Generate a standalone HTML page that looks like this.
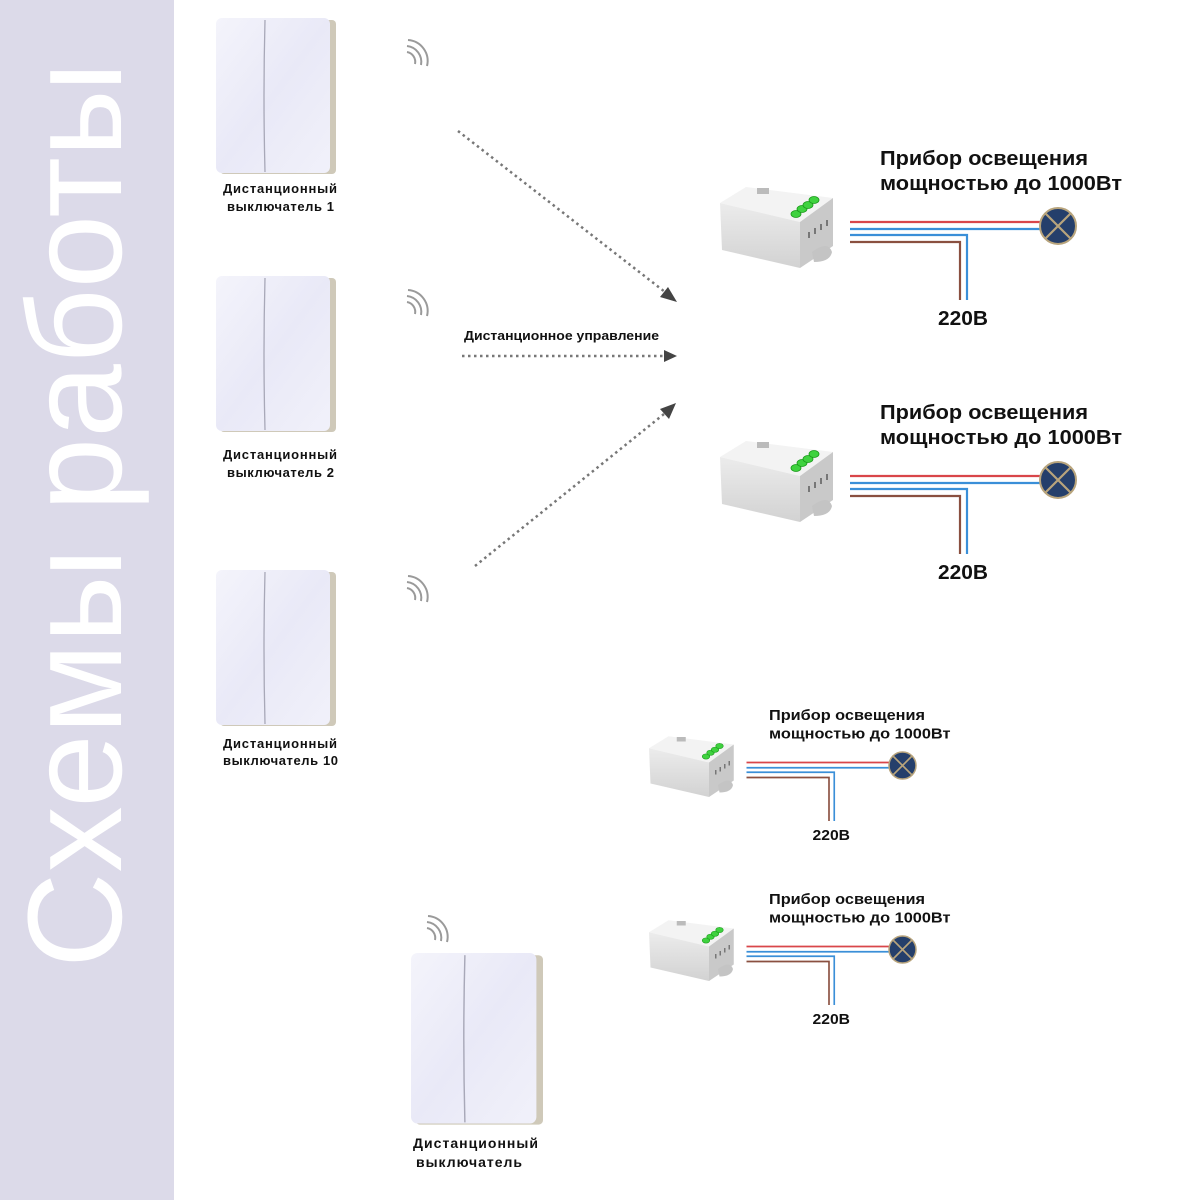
<!DOCTYPE html>
<html><head><meta charset="utf-8"><style>
html,body{margin:0;padding:0;background:#fff}
svg{display:block}
text{font-family:"Liberation Sans",sans-serif}
.b{font-weight:bold;fill:#111}
</style></head><body>
<svg width="1200" height="1200" viewBox="0 0 1200 1200" xmlns="http://www.w3.org/2000/svg">
<defs>
<linearGradient id="sw" x1="0" y1="0" x2="1" y2="1">
<stop offset="0" stop-color="#f4f4fb"/><stop offset="0.5" stop-color="#e9e9f7"/><stop offset="1" stop-color="#f1f1fa"/>
</linearGradient>
<linearGradient id="fr" x1="0" y1="0" x2="0" y2="1">
<stop offset="0" stop-color="#ececec"/><stop offset="1" stop-color="#d2d2d2"/>
</linearGradient>
<g id="switch">
<rect x="4" y="2" width="116" height="154" rx="4" fill="#cfc9b9"/>
<rect x="0" y="0" width="114" height="155" rx="6" fill="url(#sw)"/>
<path d="M49 2 Q47 78 49 154" stroke="#a8a8b8" stroke-width="1.3" fill="none"/>
</g>
<g id="wifi" fill="none" stroke="#9a9a9a" stroke-width="2">
<path d="M0 8 A10 10 0 0 1 8 20"/>
<path d="M0 2 A16 16 0 0 1 14 21"/>
<path d="M1 -4 A21 21 0 0 1 20 22"/>
</g>
<g id="relay">
<polygon points="720,203 746,187 833,198 800,222" fill="#f3f3f3"/>
<polygon points="720,203 800,222 800,268 722,250" fill="url(#fr)"/>
<polygon points="800,222 833,198 833,246 800,268" fill="#c9c9c9"/>
<path d="M812 252 Q828 240 832 252 Q830 262 814 262 Z" fill="#c4c4c4"/>
<rect x="757" y="188" width="12" height="6" fill="#bbb"/>
<g fill="#3fd23f" stroke="#1a9a1a" stroke-width="0.8">
<ellipse cx="796" cy="214" rx="5" ry="3.5"/><ellipse cx="802" cy="209" rx="5" ry="3.5"/>
<ellipse cx="808" cy="205" rx="5" ry="3.5"/><ellipse cx="814" cy="200" rx="5" ry="3.5"/>
</g>
<g fill="#777"><rect x="808" y="232" width="2" height="6"/><rect x="814" y="228" width="2" height="6"/><rect x="820" y="224" width="2" height="6"/><rect x="826" y="220" width="2" height="6"/></g>
</g>
<g id="circuit">
<use href="#relay"/>
<text class="b" x="880" y="165" font-size="20" textLength="208" lengthAdjust="spacingAndGlyphs">Прибор освещения</text>
<text class="b" x="880" y="190" font-size="20" textLength="242" lengthAdjust="spacingAndGlyphs">мощностью до 1000Вт</text>
<g fill="none" stroke-width="2.2">
<path d="M850 222 H1045" stroke="#d9464a"/>
<path d="M850 229 H1045" stroke="#3a8fd8"/>
<path d="M850 235 H967 V300" stroke="#3a8fd8"/>
<path d="M850 242 H960 V300" stroke="#8a5040"/>
</g>
<circle cx="1058" cy="226" r="18" fill="#253f6b" stroke="#b8a47c" stroke-width="2"/>
<path d="M1045 213 L1071 239 M1071 213 L1045 239" stroke="#b8a47c" stroke-width="2.2"/>
<text class="b" x="938" y="325" font-size="20" textLength="50" lengthAdjust="spacingAndGlyphs">220В</text>
</g>
</defs>
<rect x="0" y="0" width="174" height="1200" fill="#dcdae9"/>
<text transform="translate(121,968) rotate(-90)" font-size="134" fill="#fff" textLength="906" lengthAdjust="spacingAndGlyphs">Схемы работы</text>

<use href="#switch" x="216" y="18"/>
<use href="#switch" x="216" y="276"/>
<use href="#switch" x="216" y="570"/>
<g transform="translate(411,953) scale(1.1)"><use href="#switch"/></g>

<use href="#wifi" x="407" y="44"/>
<use href="#wifi" x="407" y="294"/>
<use href="#wifi" x="407" y="580"/>
<use href="#wifi" x="427" y="920"/>

<g font-size="13" lengthAdjust="spacingAndGlyphs">
<text class="b" x="223" y="193" textLength="114">Дистанционный</text><text class="b" x="227" y="211" textLength="107">выключатель 1</text>
<text class="b" x="223" y="459" textLength="114">Дистанционный</text><text class="b" x="227" y="477" textLength="107">выключатель 2</text>
<text class="b" x="223" y="748" textLength="114">Дистанционный</text><text class="b" x="223" y="765" textLength="115">выключатель 10</text>
<text class="b" x="413" y="1148" font-size="14" textLength="125">Дистанционный</text><text class="b" x="416" y="1167" font-size="14" textLength="106">выключатель</text>
</g>
<text class="b" x="464" y="340" font-size="13" textLength="195" lengthAdjust="spacingAndGlyphs">Дистанционное управление</text>

<g stroke="#777" stroke-width="2.5" stroke-dasharray="2.5 3.5" fill="none">
<path d="M458 131 L665 292"/>
<path d="M462 356 L664 356"/>
<path d="M475 566 L664 414"/>
</g>
<g fill="#444">
<polygon points="677,302 660,297 668,287"/>
<polygon points="677,356 664,350 664,362"/>
<polygon points="676,403 669,419 660,409"/>
</g>

<use href="#circuit"/>
<use href="#circuit" y="254"/>
<g transform="translate(109,596) scale(0.75)"><use href="#circuit"/></g>
<g transform="translate(109,780) scale(0.75)"><use href="#circuit"/></g>
</svg>
</body></html>
